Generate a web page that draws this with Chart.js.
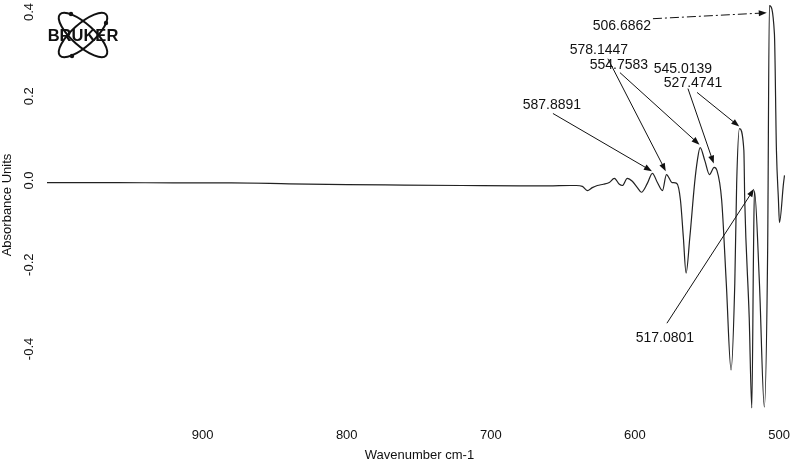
<!DOCTYPE html>
<html>
<head>
<meta charset="utf-8">
<script src="https://cdn.jsdelivr.net/npm/chart.js@4.4.1/dist/chart.umd.min.js"></script>
<style>
body { margin: 0; background: #fff; }
canvas { display: block; }
</style>
</head>
<body>
<canvas id="canvas" width="799" height="462"></canvas>
<script>
// spectrum (cm-1, absorbance)
var wavenumbers = [1008, 960, 920, 880, 840, 800, 760, 720, 680, 660, 645,
    640.7, 636.5, 633.0, 629.6, 626.1, 621.9, 617.8, 614.3, 610.8, 608.7, 605.3, 601.8, 598.3, 595.5, 591.4,
    587.89, 584.4, 580.9, 578.14, 574.2, 571.0, 568.4, 566.4, 564.5, 561.9, 558.6, 556.7,
    554.76, 551.5, 548.3, 545.01, 543.1, 539.8, 536.6, 533.3, 530.7, 529.4,
    527.47, 524.4, 523.8, 520.7, 518.9, 517.7, 517.08, 513.6, 510.2, 507.9, 506.69,
    503.2, 501.8, 500.4, 499.7, 496.9, 496.2];
var absorbance = [-0.005, -0.005, -0.006, -0.006, -0.008, -0.010, -0.011, -0.012, -0.013, -0.013, -0.012,
    -0.012, -0.014, -0.024, -0.017, -0.012, -0.009, -0.005, 0.005, -0.009, -0.012, 0.005, -0.002, -0.017, -0.028, -0.007,
    0.017, -0.005, -0.024, 0.014, -0.005, -0.007, -0.047, -0.135, -0.220, -0.135, -0.007, 0.047,
    0.078, 0.047, 0.014, 0.031, 0.024, -0.047, -0.244, -0.450, -0.244, -0.007,
    0.123, 0.071, -0.047, -0.325, -0.540, -0.166, -0.024, -0.244, -0.538, -0.166, 0.415,
    0.348, 0.071, -0.047, -0.100, -0.007, 0.012];

var xTicks = [900, 800, 700, 600, 500];
var yTicks = [0.4, 0.2, 0.0, -0.2, -0.4];

// peak picking labels
var peakNames = ['506.6862', '578.1447', '554.7583', '545.0139', '527.4741', '587.8891', '517.0801'];
var textWn  = [609.0, 625.0, 611.1, 566.7, 559.7, 657.6, 579.2];
var textAbs = [0.367, 0.309, 0.273, 0.265, 0.232, 0.178, -0.374];
var tailWn  = [587.5, 618.75, 610.4, 563.2, 556.9, 656.9, 577.8];
var tailAbs = [0.384, 0.289, 0.256, 0.218, 0.209, 0.159, -0.339];
var tipWn   = [508.5, 578.6, 555.2, 545.3, 527.6, 588.2, 517.3];
var tipAbs  = [0.398, 0.022, 0.085, 0.040, 0.128, 0.022, -0.020];

var fontName = '"Liberation Sans", Arial, sans-serif';

function drawArrow(ctx, x0, y0, x1, y1, dashed){
    var ang = Math.atan2(y1 - y0, x1 - x0);
    var len = 8;
    ctx.save();
    if (dashed) ctx.setLineDash([9, 3, 2, 3]);
    ctx.beginPath();
    ctx.moveTo(x0, y0);
    ctx.lineTo(x1 - Math.cos(ang) * len * 0.7, y1 - Math.sin(ang) * len * 0.7);
    ctx.stroke();
    ctx.restore();
    ctx.beginPath();
    ctx.moveTo(x1, y1);
    ctx.lineTo(x1 - len * Math.cos(ang) + 3 * Math.sin(ang), y1 - len * Math.sin(ang) - 3 * Math.cos(ang));
    ctx.lineTo(x1 - len * Math.cos(ang) - 3 * Math.sin(ang), y1 - len * Math.sin(ang) + 3 * Math.cos(ang));
    ctx.closePath();
    ctx.fill();
}

function drawLogo(ctx, cx, cy){
    ctx.save();
    ctx.strokeStyle = '#111';
    ctx.fillStyle = '#111';
    ctx.lineWidth = 2;
    ctx.beginPath();
    ctx.ellipse(cx, cy, 31, 11, 0.73, 0, 2 * Math.PI);
    ctx.stroke();
    ctx.beginPath();
    ctx.ellipse(cx, cy, 31, 11, -0.73, 0, 2 * Math.PI);
    ctx.stroke();
    for (var d of [[-12, -21], [-11, 21], [23, -12]]){
        ctx.beginPath();
        ctx.arc(cx + d[0], cy + d[1], 2.2, 0, 2 * Math.PI);
        ctx.fill();
    }
    ctx.font = 'bold 16.5px ' + fontName;
    ctx.textAlign = 'center';
    ctx.textBaseline = 'middle';
    ctx.fillText('BRUKER', cx, cy + 1);
    ctx.restore();
}

var peakPlugin = {
    id: 'peaks',
    afterDatasetsDraw(chart){
        var ctx = chart.ctx;
        var xs = chart.scales.x;
        var ys = chart.scales.y;
        ctx.save();
        ctx.fillStyle = '#111';
        ctx.strokeStyle = '#111';
        ctx.lineWidth = 1;
        ctx.font = '14px ' + fontName;
        ctx.textAlign = 'center';
        ctx.textBaseline = 'middle';
        for (var i = 0; i < peakNames.length; i++){
            ctx.fillText(peakNames[i], xs.getPixelForValue(textWn[i]), ys.getPixelForValue(textAbs[i]));
            drawArrow(ctx,
                xs.getPixelForValue(tailWn[i]), ys.getPixelForValue(tailAbs[i]),
                xs.getPixelForValue(tipWn[i]), ys.getPixelForValue(tipAbs[i]),
                i == 0);
        }
        drawLogo(ctx, chart.chartArea.left + 36, chart.chartArea.top + 35);
        ctx.restore();
    }
};

var points = [];
for (var i = 0; i < wavenumbers.length; i++){
    points.push({x: wavenumbers[i], y: absorbance[i]});
}

var ctx = document.getElementById('canvas').getContext('2d');
var chart = new Chart(ctx, {
    type: 'line',
    data: {
        datasets: [{
            data: points,
            borderColor: '#222',
            borderWidth: 1.2,
            pointRadius: 0,
            cubicInterpolationMode: 'monotone',
            fill: false
        }]
    },
    plugins: [peakPlugin],
    options: {
        responsive: false,
        animation: false,
        devicePixelRatio: 1,
        layout: { padding: { top: 0, right: 7, bottom: 0, left: 0 } },
        plugins: { legend: { display: false }, tooltip: { enabled: false } },
        scales: {
            x: {
                type: 'linear',
                reverse: true,
                min: 491,
                max: 1008,
                grid: { display: false, drawTicks: false },
                border: { display: false },
                afterBuildTicks: function(scale){
                    scale.ticks = xTicks.map(v => ({value: v}));
                },
                afterFit: function(scale){
                    scale.height = 52;
                    scale.paddingLeft = 0;
                    scale.paddingRight = 0;
                },
                ticks: {
                    padding: 18,
                    color: '#111',
                    font: { family: fontName, size: 13 },
                    maxRotation: 0,
                    callback: v => String(v)
                },
                title: {
                    display: true,
                    text: 'Wavenumber cm-1',
                    color: '#111',
                    font: { family: fontName, size: 13 },
                    padding: { top: 0, bottom: -1 }
                }
            },
            y: {
                min: -0.545,
                max: 0.4284,
                grid: { display: false, drawTicks: false },
                border: { display: false },
                afterBuildTicks: function(scale){
                    scale.ticks = yTicks.map(v => ({value: v}));
                },
                afterFit: function(scale){
                    scale.width = 47;
                    scale.paddingTop = 0;
                    scale.paddingBottom = 0;
                },
                ticks: {
                    padding: 6,
                    color: '#111',
                    minRotation: 90,
                    maxRotation: 90,
                    crossAlign: 'center',
                    font: { family: fontName, size: 13 },
                    callback: v => v.toFixed(1)
                },
                title: {
                    display: true,
                    text: 'Absorbance Units',
                    color: '#111',
                    font: { family: fontName, size: 13 },
                    padding: { top: 0, bottom: 0 }
                }
            }
        }
    }
});
</script>
</body>
</html>
